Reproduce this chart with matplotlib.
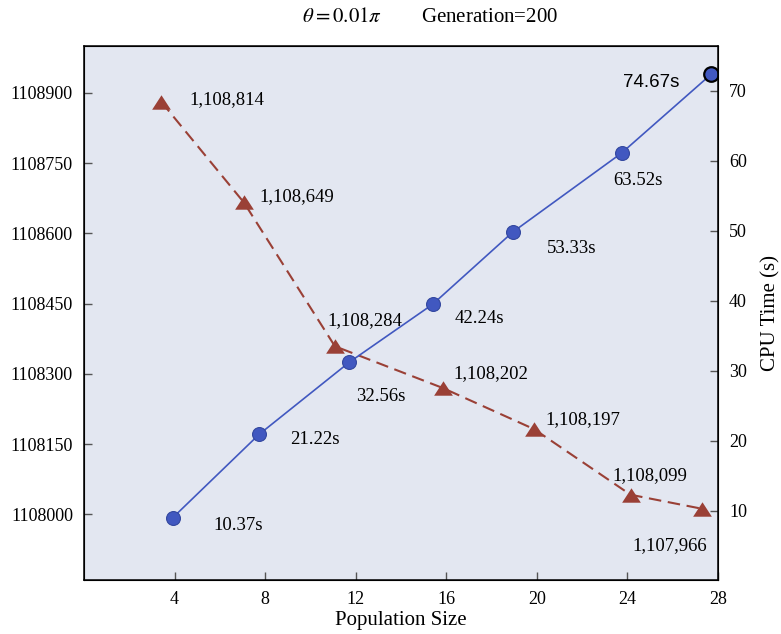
import matplotlib

matplotlib.use("Agg")
import matplotlib.pyplot as plt

plt.rcParams["font.family"] = ["Liberation Serif", "DejaVu Serif"]
plt.rcParams["mathtext.fontset"] = "stix"

# axis ticks
population_ticks = [4, 8, 12, 16, 20, 24, 28]
cost_ticks = [1108000, 1108150, 1108300, 1108450, 1108600, 1108750, 1108900]
time_ticks = [10, 20, 30, 40, 50, 60, 70]

# best cost (left axis) - marker positions as drawn, with their printed labels
cost_x = [3.41, 7.06, 11.08, 15.84, 19.88, 24.14, 27.30]
cost_y = [1108881, 1108666, 1108359, 1108270, 1108182, 1108042, 1108012]
cost_labels = ["1,108,814", "1,108,649", "1,108,284", "1,108,202",
               "1,108,197", "1,108,099", "1,107,966"]

# CPU time (right axis)
time_x = [3.92, 7.73, 11.71, 15.40, 18.93, 23.74, 27.71]
time_y = [9.0, 20.9, 31.2, 39.5, 49.8, 61.1, 72.4]
time_labels = ["10.37s", "21.22s", "32.56s", "42.24s", "53.33s", "63.52s", "74.67s"]

# label offsets in pixels from each marker
cost_offsets = [(28, 2), (16, 6), (-7, 26), (11, 14), (11, 10), (-18, 19), (-70, -37)]
time_offsets = [(41, -8), (31, -5), (7, -34), (22, -14), (34, -16), (-8, -27), (-88, -8)]

RED = "#9a4036"
BLUE = "#4158c0"
BG = "#e3e7f1"
TRIANGLE = [(0, 0.77), (-1, -0.77), (1, -0.77)]


def style_ticks(axis) -> None:
    axis.tick_params(direction="in", length=6, width=1, color="#555555",
                     labelsize=13, pad=8)


def main() -> None:
    fig = plt.figure(figsize=(7.81, 6.34), dpi=100)
    ax = fig.add_axes([0.1076, 0.0852, 0.8117, 0.8422])
    ax.set_facecolor(BG)
    ax2 = ax.twinx()

    ax.plot(cost_x, cost_y, color=RED, lw=1.5, linestyle=(0, (6, 3.2)),
            marker=TRIANGLE, markersize=13.5, markeredgewidth=0)
    for x, y, label, off in zip(cost_x, cost_y, cost_labels, cost_offsets):
        ax.annotate(label, (x, y), xytext=off, textcoords="offset pixels",
                    ha="left", va="center", fontsize=13.5)

    ax2.plot(time_x, time_y, color=BLUE, lw=1.2, marker="o", markersize=10,
             markeredgecolor="#33489f", markeredgewidth=0.8)
    ax2.plot(time_x[-1:], time_y[-1:], linestyle="none", marker="o",
             markersize=10.5, color=BLUE, markeredgecolor="black",
             markeredgewidth=1.6)
    for i, (x, y, label, off) in enumerate(zip(time_x, time_y, time_labels, time_offsets)):
        last = i == len(time_x) - 1
        ax2.annotate(label, (x, y), xytext=off, textcoords="offset pixels",
                     ha="left", va="center",
                     fontsize=13.5,
                     family=["Liberation Sans"] if last else None)

    ax.set_xlim(0, 28)
    ax.set_ylim(1107860, 1109000)
    ax2.set_ylim(0.1, 76.4)
    ax.set_xticks(population_ticks)
    ax.set_yticks(cost_ticks)
    ax.set_yticklabels([str(v) for v in cost_ticks])
    ax2.set_yticks(time_ticks)
    style_ticks(ax)
    style_ticks(ax2)

    ax.set_xlabel("Population Size", fontsize=15, labelpad=2)
    ax2.set_ylabel("CPU Time (s)", fontsize=15, labelpad=10)

    for spine in ax2.spines.values():
        spine.set_color("black")
        spine.set_linewidth(1.1)

    fig.text(0.551, 0.972, r"$\theta = 0.01\pi$        Generation=200",
             ha="center", va="center", fontsize=15)

    fig.savefig("out.png", dpi=100)


if __name__ == "__main__":
    main()
